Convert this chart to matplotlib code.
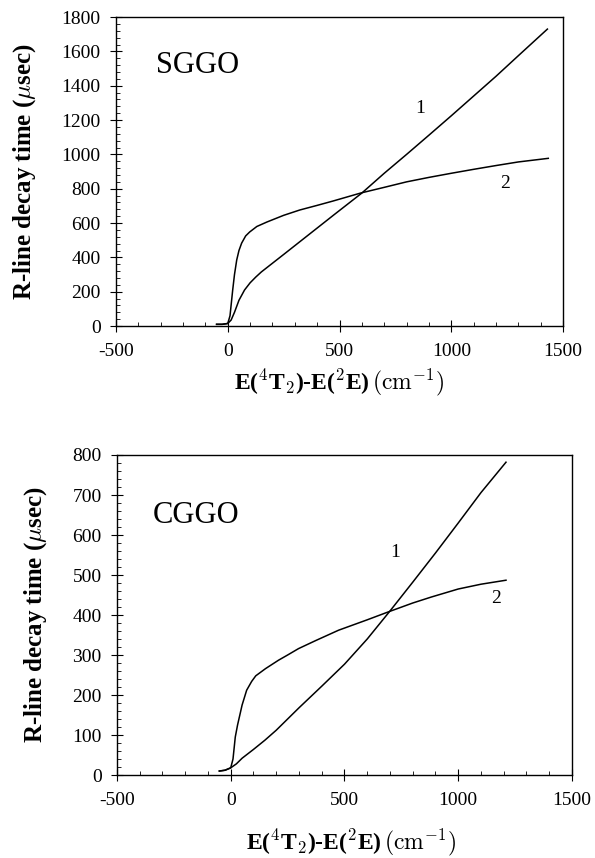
import matplotlib
matplotlib.use('Agg')
import matplotlib.pyplot as plt
from matplotlib.ticker import MultipleLocator

plt.rcParams['font.family'] = ['Liberation Serif', 'DejaVu Serif']
plt.rcParams['mathtext.fontset'] = 'cm'
plt.rcParams['axes.unicode_minus'] = False

# SGGO (top panel)
sggo_x1 = [-50, -25, 0, 15, 30, 50, 75, 100, 125, 150, 200, 250, 325, 400,
           475, 600, 700, 800, 900, 1000, 1100, 1200, 1300, 1430]
sggo_y1 = [10, 10, 15, 35, 80, 150, 210, 252, 285, 315, 366, 417, 494, 571,
           648, 775, 890, 1000, 1112, 1225, 1340, 1455, 1575, 1730]
sggo_x2 = [-50, -25, 0, 10, 22, 30, 40, 50, 62, 80, 98, 130, 175, 250, 322,
           400, 470, 595, 700, 800, 900, 1000, 1100, 1200, 1300, 1434]
sggo_y2 = [10, 10, 15, 60, 210, 300, 385, 440, 483, 525, 548, 580, 606, 645,
           676, 703, 728, 775, 808, 840, 866, 890, 913, 935, 956, 977]

# CGGO (bottom panel)
cggo_x1 = [-50, -25, 0, 25, 50, 100, 150, 200, 300, 400, 500, 600, 700, 800,
           900, 1000, 1100, 1210]
cggo_y1 = [10, 12, 18, 28, 42, 64, 87, 112, 168, 222, 277, 340, 410, 482,
           555, 630, 706, 782]
cggo_x2 = [-50, -25, 0, 10, 20, 30, 40, 50, 70, 92, 110, 153, 210, 250, 298,
           373, 474, 600, 689, 800, 882, 1000, 1100, 1210]
cggo_y2 = [10, 12, 18, 40, 95, 125, 150, 175, 212, 234, 248, 266, 287, 300,
           316, 336, 362, 388, 407, 430, 445, 465, 477, 487]

ylabel = r'R-line decay time ($\mu$sec)'
xlabel = r'E($^4$T$_2$)-E($^2$E)$\,(\mathrm{cm}^{-1})$'

fig = plt.figure(figsize=(5.95, 8.58), dpi=100)
ax1 = fig.add_axes([0.195, 0.620, 0.7513, 0.3601])
ax2 = fig.add_axes([0.1966, 0.0967, 0.7647, 0.373])


def style(ax, ymax, ymajor, yminor):
    ax.set_xlim(-500, 1500)
    ax.set_ylim(0, ymax)
    ax.xaxis.set_major_locator(MultipleLocator(500))
    ax.xaxis.set_minor_locator(MultipleLocator(100))
    ax.yaxis.set_major_locator(MultipleLocator(ymajor))
    ax.yaxis.set_minor_locator(MultipleLocator(yminor))
    ax.tick_params(which='major', direction='inout', length=8, width=0.8,
                   labelsize=14, top=False, right=False)
    ax.tick_params(which='minor', direction='in', length=3, width=0.6,
                   top=False, right=False)
    ax.tick_params(axis='x', which='major', pad=8)
    ax.tick_params(axis='y', which='major', pad=7)
    for s in ax.spines.values():
        s.set_linewidth(1.0)


style(ax1, 1800, 200, 40)
ax1.plot(sggo_x1, sggo_y1, color='black', lw=1.1)
ax1.plot(sggo_x2, sggo_y2, color='black', lw=1.1)
ax1.text(-134, 1520, 'SGGO', fontsize=22, ha='center', va='center')
ax1.text(859, 1270, '1', fontsize=14, ha='center', va='center')
ax1.text(1239, 833, '2', fontsize=14, ha='center', va='center')
ax1.set_ylabel(ylabel, fontsize=18, fontweight='bold')
ax1.yaxis.set_label_coords(-0.205, 0.5)
ax1.yaxis.label.set_va('center')
ax1.set_xlabel(xlabel, fontsize=17, fontweight='bold')
ax1.xaxis.set_label_coords(0.5, -0.181)
ax1.xaxis.label.set_va('center')

style(ax2, 800, 100, 20)
ax2.plot(cggo_x1, cggo_y1, color='black', lw=1.1)
ax2.plot(cggo_x2, cggo_y2, color='black', lw=1.1)
ax2.text(-154, 650, 'CGGO', fontsize=22, ha='center', va='center')
ax2.text(724, 557, '1', fontsize=14, ha='center', va='center')
ax2.text(1167, 442, '2', fontsize=14, ha='center', va='center')
ax2.set_ylabel(ylabel, fontsize=18, fontweight='bold')
ax2.yaxis.set_label_coords(-0.178, 0.5)
ax2.yaxis.label.set_va('center')
ax2.set_xlabel(xlabel, fontsize=17, fontweight='bold')
ax2.xaxis.set_label_coords(0.515, -0.212)
ax2.xaxis.label.set_va('center')

fig.savefig('out.png', dpi=100)
